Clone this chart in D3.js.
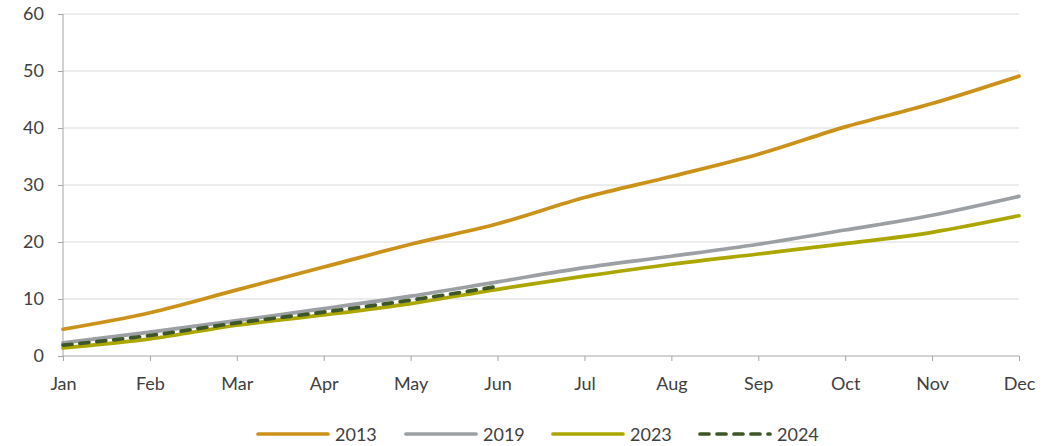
<!DOCTYPE html>
<html><head><meta charset="utf-8">
<script src="https://cdn.jsdelivr.net/npm/d3@7"></script>
<style>body{margin:0;background:#fff;} text{font-family:Lato,"Open Sans",sans-serif;}</style>
</head><body><svg id="c" width="1064" height="446"></svg>
<script>
const months = ["Jan","Feb","Mar","Apr","May","Jun","Jul","Aug","Sep","Oct","Nov","Dec"];
const yTicks = [0,10,20,30,40,50,60];
const s2013 = [4.7,7.6,11.6,15.6,19.6,23.2,27.8,31.5,35.4,40.2,44.3,49.1];
const s2019 = [2.3,4.2,6.2,8.3,10.5,13.0,15.5,17.5,19.6,22.1,24.7,28.0];
const s2023 = [1.4,3.0,5.4,7.2,9.2,11.7,14.0,16.1,17.9,19.7,21.7,24.6];
const s2024 = [1.9,3.6,5.8,7.7,9.8,12.2];
const seriesNames = ["2013","2019","2023","2024"];
const seriesData = [s2013,s2019,s2023,s2024];
const colors = ["#CC9118","#9CA0A4","#ABA700","#3D5625"];
const dashes = [null,null,null,"9,8"];

const svg = d3.select("#c");
const x = d3.scalePoint().domain(months).range([63,1019]);
const y = d3.scaleLinear().domain([0,60]).range([356,14]);

// gridlines
svg.append("g").selectAll("line").data(yTicks.filter(d=>d>0)).join("line")
  .attr("x1",63).attr("x2",1019).attr("y1",d=>y(d)).attr("y2",d=>y(d))
  .attr("stroke","#d9d9d9").attr("stroke-width",1);

// y axis
const ya = svg.append("g").attr("transform","translate(63,0)")
  .call(d3.axisLeft(y).tickValues(yTicks).tickSize(5).tickPadding(14));
ya.select(".domain").attr("stroke","#a6a6a6").attr("d","M0,14V356");
ya.selectAll(".tick line").attr("stroke","#a6a6a6");
ya.selectAll("text").attr("fill","#404040").style("font-size","18px");

// x axis
const xa = svg.append("g").attr("transform","translate(0,356)")
  .call(d3.axisBottom(x).tickSize(5).tickPadding(16));
xa.select(".domain").attr("stroke","#a6a6a6").attr("d","M63,0H1019");
xa.selectAll(".tick line").attr("stroke","#a6a6a6");
xa.selectAll("text").attr("fill","#404040").style("font-size","18px");

const line = d3.line().x((d,i)=>x(months[i])).y(d=>y(d)).curve(d3.curveMonotoneX);
seriesData.forEach((s,k)=>{
  svg.append("path").attr("d",line(s)).attr("fill","none")
    .attr("stroke",colors[k]).attr("stroke-width",3.7)
    .attr("stroke-linecap","round")
    .attr("stroke-dasharray",dashes[k]);
});

// legend
const lx = [258,406,553,700];
seriesNames.forEach((n,k)=>{
  const g = svg.append("g").attr("transform",`translate(${lx[k]},434)`);
  g.append("line").attr("x1",0).attr("x2",70).attr("y1",0).attr("y2",0)
    .attr("stroke",colors[k]).attr("stroke-width",3.7).attr("stroke-linecap","round")
    .attr("stroke-dasharray",dashes[k]);
  g.append("text").attr("x",77).attr("y",6.5).text(n).attr("fill","#404040").style("font-size","18px");
});
</script></body></html>
